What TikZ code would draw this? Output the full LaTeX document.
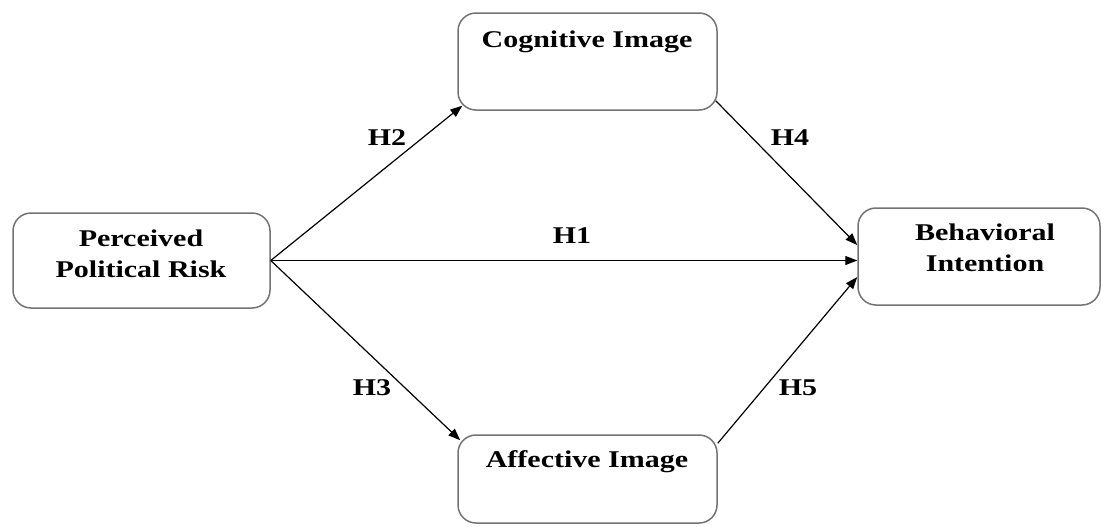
\documentclass[tikz,border=0pt]{standalone}
\usepackage{fontspec}
\setmainfont{Liberation Serif}[FakeStretch=1.25]
\usetikzlibrary{arrows.meta,calc}

\begin{document}
\begin{tikzpicture}[
	x=0.5pt,y=-0.5pt
	,every node/.append style={font=\fontsize{12}{15.5}\selectfont\bfseries}
	,blk/.style={draw=black!55, line width=0.75pt, rounded corners=9pt}
	,txt/.style={inner sep=0pt, align=center}
	,hyp/.style={inner sep=0pt, anchor=base}
	,arr/.style={draw=black, line width=0.6pt, -{Triangle[length=6pt,width=4.5pt]}}
]
	\useasboundingbox (0,0) rectangle (1101,526);

	% constructs
	\node [blk, minimum width=128.5pt, minimum height=47.5pt] (ppr) at (141.5,260.5) {};
	\node [blk, minimum width=129.5pt, minimum height=48.5pt] (cog) at (587.5,61.5) {};
	\node [blk, minimum width=121pt, minimum height=48.5pt] (bi) at (979,256.5) {};
	\node [blk, minimum width=129.5pt, minimum height=44pt] (aff) at (587.5,479) {};

	\node [txt] (ppr-t) at (141,253.5) {Perceived\\Political Risk};
	\node [txt, anchor=base] (cog-t) at (587,47) {Cognitive Image};
	\node [txt] (bi-t) at (985,247.5) {Behavioral\\Intention};
	\node [txt, anchor=base] (aff-t) at (587,467) {Affective Image};

	% paths
	\draw [arr] (ppr.east) -- ($(cog.south west)+(5,-5)$);
	\draw [arr] (ppr.east) -- (ppr.east -| bi.west);
	\draw [arr] (ppr.east) -- ($(aff.north west)+(3,6)$);
	\draw [arr] ($(cog.south east)+(-2,-10)$) -- ($(bi.west)+(0,-11.5)$);
	\draw [arr] ($(aff.north east)+(0,9)$) -- ($(bi.west)+(0,20.5)$);

	\node [hyp] (h1) at (572,243) {H1};
	\node [hyp] (h2) at (387,145) {H2};
	\node [hyp] (h3) at (372,395) {H3};
	\node [hyp] (h4) at (790,145) {H4};
	\node [hyp] (h5) at (798,395) {H5};
\end{tikzpicture}
\end{document}
